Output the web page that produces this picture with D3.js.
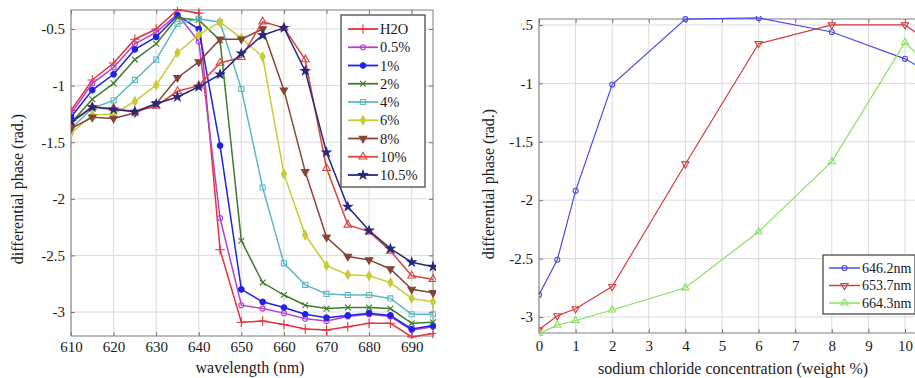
<!DOCTYPE html>
<html>
<head>
<meta charset="utf-8">
<script src="https://cdn.jsdelivr.net/npm/d3@7"></script>
<style>
  body { margin: 0; background: #fff; }
  svg { display: block; }
  svg text { font-family: "Liberation Serif", "DejaVu Serif", "Times New Roman", Times, serif !important; fill: #1a1a1a; }
</style>
</head>
<body>
<svg id="chart" width="915" height="378"></svg>
<script>
// ---- Differential phase vs. wavelength, one series per NaCl concentration ----
const wavelengths = [610, 615, 620, 625, 630, 635, 640, 645, 650, 655, 660, 665, 670, 675, 680, 685, 690, 695];
const phaseH2O   = [-1.22, -0.95, -0.80, -0.59, -0.50, -0.33, -0.36, -2.45, -3.09, -3.08, -3.11, -3.15, -3.16, -3.13, -3.10, -3.10, -3.22, -3.19];
const phase05    = [-1.25, -0.98, -0.84, -0.63, -0.53, -0.37, -0.61, -2.17, -2.94, -2.97, -3.01, -3.06, -3.08, -3.04, -3.02, -3.04, -3.16, -3.13];
const phase1     = [-1.28, -1.04, -0.90, -0.68, -0.57, -0.38, -0.50, -1.53, -2.80, -2.91, -2.96, -3.02, -3.05, -3.03, -3.01, -3.03, -3.15, -3.12];
const phase2     = [-1.33, -1.12, -0.98, -0.77, -0.63, -0.40, -0.42, -0.60, -2.37, -2.74, -2.85, -2.94, -2.97, -2.96, -2.96, -2.97, -3.10, -3.09];
const phase4     = [-1.38, -1.20, -1.13, -0.95, -0.77, -0.455, -0.41, -0.44, -1.03, -1.90, -2.57, -2.76, -2.84, -2.85, -2.85, -2.88, -3.02, -3.02];
const phase6     = [-1.42, -1.26, -1.25, -1.14, -0.995, -0.71, -0.55, -0.44, -0.58, -0.745, -1.78, -2.32, -2.59, -2.67, -2.68, -2.74, -2.88, -2.91];
const phase8     = [-1.38, -1.28, -1.29, -1.24, -1.16, -0.93, -0.79, -0.59, -0.59, -0.50, -1.04, -1.76, -2.34, -2.51, -2.54, -2.62, -2.80, -2.83];
const phase10    = [-1.33, -1.19, -1.20, -1.23, -1.18, -1.05, -1.00, -0.80, -0.75, -0.435, -0.49, -0.77, -1.73, -2.23, -2.29, -2.46, -2.68, -2.71];
const phase105   = [-1.32, -1.19, -1.21, -1.23, -1.16, -1.10, -1.01, -0.90, -0.715, -0.555, -0.49, -0.87, -1.59, -2.07, -2.28, -2.44, -2.56, -2.60];
const spectrumNames = ["H2O", "0.5%", "1%", "2%", "4%", "6%", "8%", "10%", "10.5%"];

// ---- Differential phase vs. concentration at three fixed wavelengths ----
const concentrations = [0, 0.5, 1, 2, 4, 6, 8, 10, 10.5];
const phaseAt646 = [-2.81, -2.51, -1.92, -1.01, -0.45, -0.44, -0.56, -0.79, -0.88];
const phaseAt653 = [-3.11, -2.99, -2.93, -2.74, -1.69, -0.66, -0.50, -0.50, -0.61];
const phaseAt664 = [-3.14, -3.07, -3.03, -2.94, -2.75, -2.27, -1.67, -0.65, -0.80];
const wavelengthNames = ["646.2nm", "653.7nm", "664.3nm"];

// ---- Tick labels ----
const wlTicks = [610, 620, 630, 640, 650, 660, 670, 680, 690];
const wlTickLabels = ["610", "620", "630", "640", "650", "660", "670", "680", "690"];
const phaseTicks = [-3, -2.5, -2, -1.5, -1, -0.5];
const phaseTickLabels = ["-3", "-2.5", "-2", "-1.5", "-1", "-0.5"];
const concTicks = [0, 1, 2, 3, 4, 5, 6, 7, 8, 9, 10];
const concTickLabels = ["0", "1", "2", "3", "4", "5", "6", "7", "8", "9", "10"];

const FONT = "Liberation Serif, DejaVu Serif, serif";
const svg = d3.select("#chart");

// Marker styles
const sym = (type, size, angle = 0) => ({ type, size, angle });
const spectrumStyles = [
  { color: "#e5323c", marker: sym(d3.symbolPlus, 32), fill: false },
  { color: "#b83fd0", marker: sym(d3.symbolCircle, 20), fill: false },
  { color: "#1f22e6", marker: sym(d3.symbolCircle, 24), fill: true },
  { color: "#3f7b2c", marker: sym(d3.symbolTimes, 24), fill: false },
  { color: "#5cb9c4", marker: sym(d3.symbolSquare, 26), fill: false },
  { color: "#c9cb37", marker: sym(d3.symbolDiamond, 24), fill: true },
  { color: "#864437", marker: sym(d3.symbolTriangle, 24, 180), fill: true },
  { color: "#d8473c", marker: sym(d3.symbolTriangle, 26), fill: false },
  { color: "#26287f", marker: sym(d3.symbolStar, 22), fill: true }
];
const wavelengthStyles = [
  { color: "#4a4ae6", marker: sym(d3.symbolCircle, 20), fill: false },
  { color: "#d23c3c", marker: sym(d3.symbolTriangle, 22, 180), fill: false },
  { color: "#86e35e", marker: sym(d3.symbolTriangle, 22), fill: false }
];

function drawMarker(g, st, x, y) {
  g.append("path")
    .attr("d", d3.symbol().type(st.marker.type).size(st.marker.size)())
    .attr("transform", `translate(${x},${y}) rotate(${st.marker.angle})`)
    .attr("fill", st.fill ? st.color : "none")
    .attr("stroke", st.color)
    .attr("stroke-width", 1.1);
}

function drawPanel(cfg) {
  const { x, y, id } = cfg;
  const [x0, x1] = x.range();
  const [yb, yt] = y.range();
  const g = svg.append("g").attr("font-family", FONT);

  // grid
  const grid = g.append("g").attr("stroke", "#dadada").attr("stroke-width", 1);
  cfg.xTicks.forEach(t => grid.append("line")
    .attr("x1", x(t)).attr("x2", x(t)).attr("y1", yt).attr("y2", yb));
  cfg.yTicks.forEach(t => grid.append("line")
    .attr("x1", x0).attr("x2", x1).attr("y1", y(t)).attr("y2", y(t)));

  // axes: inward ticks on all four sides
  const bottom = g.append("g").attr("transform", `translate(0,${yb})`)
    .call(d3.axisBottom(x).tickValues(cfg.xTicks).tickSize(-4).tickPadding(cfg.xPad)
      .tickFormat((d, i) => cfg.xTickLabels[i]));
  const top = g.append("g").attr("transform", `translate(0,${yt})`)
    .call(d3.axisTop(x).tickValues(cfg.xTicks).tickSize(-4).tickFormat(""));
  const left = g.append("g").attr("transform", `translate(${x0},0)`)
    .call(d3.axisLeft(y).tickValues(cfg.yTicks).tickSize(-4).tickPadding(6)
      .tickFormat((d, i) => cfg.yTickLabels[i]));
  const right = g.append("g").attr("transform", `translate(${x1},0)`)
    .call(d3.axisRight(y).tickValues(cfg.yTicks).tickSize(-4).tickFormat(""));
  [bottom, top, left, right].forEach(a => {
    a.attr("font-family", FONT).attr("font-size", 15);
    a.select(".domain").remove();
    a.selectAll(".tick line").attr("stroke", "#777");
    a.selectAll("text").attr("fill", "#1a1a1a");
  });
  if (cfg.afterAxes) cfg.afterAxes(left);

  // frame
  g.append("rect").attr("x", x0).attr("y", yt).attr("width", x1 - x0).attr("height", yb - yt)
    .attr("fill", "none").attr("stroke", "#7d7d7d").attr("stroke-width", 1);

  // clip for series
  svg.append("clipPath").attr("id", id).append("rect")
    .attr("x", x0).attr("y", yt - 3).attr("width", x1 - x0 + 3).attr("height", yb - yt + 6);
  const plot = g.append("g").attr("clip-path", `url(#${id})`);
  const line = d3.line().x(d => x(d[0])).y(d => y(d[1]));
  cfg.series.forEach((s, k) => {
    const st = cfg.styles[k];
    const pts = cfg.xs.map((xv, i) => [xv, s[i]]);
    plot.append("path").attr("d", line(pts)).attr("fill", "none")
      .attr("stroke", st.color).attr("stroke-width", cfg.lineWidth);
    pts.forEach(p => drawMarker(plot, st, x(p[0]), y(p[1])));
  });

  // axis titles
  g.append("text").attr("x", cfg.xTitlePos[0]).attr("y", cfg.xTitlePos[1])
    .attr("text-anchor", "middle").attr("font-size", 16).text(cfg.xTitle);
  g.append("text").attr("transform", `translate(${cfg.yTitlePos[0]},${cfg.yTitlePos[1]}) rotate(-90)`)
    .attr("text-anchor", "middle").attr("dy", "0.35em").attr("font-size", 16).text(cfg.yTitle);

  // legend
  const L = cfg.legend;
  const lg = g.append("g");
  lg.append("rect").attr("x", L.x).attr("y", L.y).attr("width", L.w).attr("height", L.h)
    .attr("fill", "#fff").attr("stroke", "#4a4a4a").attr("stroke-width", 1.3);
  cfg.names.forEach((n, k) => {
    const st = cfg.styles[k];
    const cy = L.y + L.first + k * L.step;
    lg.append("line").attr("x1", L.x + L.lx0).attr("x2", L.x + L.lx1).attr("y1", cy).attr("y2", cy)
      .attr("stroke", st.color).attr("stroke-width", cfg.lineWidth + 0.3);
    drawMarker(lg, st, L.x + (L.lx0 + L.lx1) / 2, cy);
    lg.append("text").attr("x", L.x + L.tx).attr("y", cy).attr("dy", "0.35em")
      .attr("font-size", L.fs).text(n);
  });
}

// Left panel: spectra
drawPanel({
  id: "clipSpectra",
  x: d3.scaleLinear().domain([610, 695]).range([71, 433]),
  y: d3.scaleLinear().domain([-3.212, -0.332]).range([336, 10]),
  xs: wavelengths,
  series: [phaseH2O, phase05, phase1, phase2, phase4, phase6, phase8, phase10, phase105],
  styles: spectrumStyles,
  names: spectrumNames,
  xTicks: wlTicks, xTickLabels: wlTickLabels, xPad: 5,
  yTicks: phaseTicks, yTickLabels: phaseTickLabels,
  lineWidth: 1.5,
  xTitle: "wavelength (nm)", xTitlePos: [250, 373],
  yTitle: "differential phase (rad.)", yTitlePos: [17, 189],
  legend: { x: 341, y: 15, w: 84, h: 172, first: 14, step: 18.25, lx0: 7, lx1: 37, tx: 39, fs: 14.5 }
});

// Right panel: phase vs. concentration (extends past the page edge)
drawPanel({
  id: "clipConc",
  x: d3.scaleLinear().domain([0, 10.5]).range([539, 923.3]),
  y: d3.scaleLinear().domain([-3.137, -0.449]).range([333, 19]),
  xs: concentrations,
  series: [phaseAt646, phaseAt653, phaseAt664],
  styles: wavelengthStyles,
  names: wavelengthNames,
  xTicks: concTicks, xTickLabels: concTickLabels, xPad: 7,
  yTicks: phaseTicks, yTickLabels: phaseTickLabels,
  lineWidth: 1.2,
  xTitle: "sodium chloride concentration (weight %)", xTitlePos: [733, 374],
  yTitle: "differential phase (rad.)", yTitlePos: [488, 184],
  legend: { x: 823, y: 255, w: 92, h: 59, first: 13, step: 17.5, lx0: 6, lx1: 37, tx: 39, fs: 14 },
  afterAxes: left => {
    // the top label sits against the panel's left crop edge (local tick coordinates)
    svg.append("clipPath").attr("id", "clipTopLabel").append("rect")
      .attr("x", 521 - 539).attr("y", -20).attr("width", 30).attr("height", 40);
    left.selectAll(".tick").filter(d => d === -0.5).select("text")
      .attr("clip-path", "url(#clipTopLabel)");
  }
});
</script>
</body>
</html>
